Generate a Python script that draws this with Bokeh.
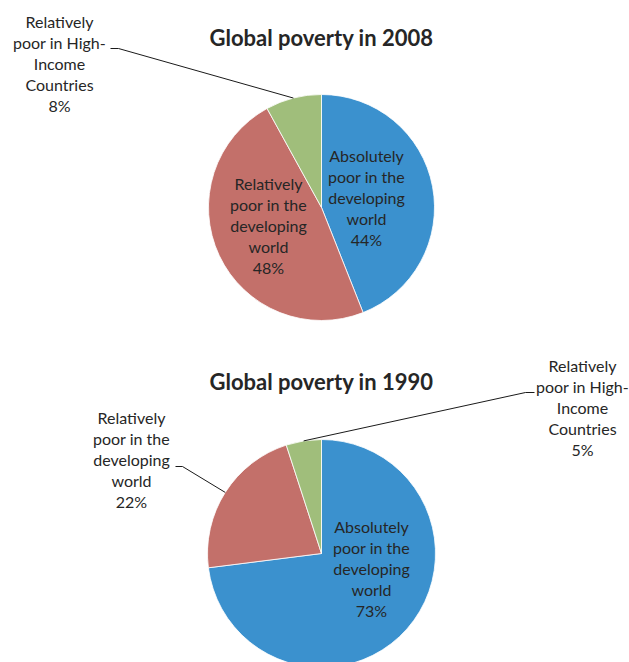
import numpy as np
from bokeh.plotting import figure
from bokeh.models import Range1d, ColumnDataSource
from bokeh.core.properties import value
from bokeh.embed import file_html
from bokeh.resources import INLINE

# ---- data ----
categories = [
    "Absolutely\npoor in the\ndeveloping\nworld",
    "Relatively\npoor in the\ndeveloping\nworld",
    "Relatively\npoor in High-\nIncome\nCountries",
]
share_2008 = [44, 48, 8]
share_1990 = [73, 22, 5]
titles = ["Global poverty in 2008", "Global poverty in 1990"]
colors = ["#3B91CE", "#C3706A", "#A0BE7B"]

# ---- layout (pixel coordinates, y measured from top) ----
W, H = 629, 662
FONT = "Lato"
TEXT_COLOR = "#262626"
LINE_GAP = 21.2

charts = [
    dict(values=share_2008, title=titles[0], cx=321, cy=207, r=113, title_y=37,
         labels=[(366, 197, None), (268, 225, None),
                 (59, 63, [(110, 48), (118, 48)])]),
    dict(values=share_1990, title=titles[1], cx=321, cy=553, r=114, title_y=381,
         labels=[(371, 568, None), (131, 459, [(175, 466), (182, 466)]),
                 (582, 407, [(534, 392), (525, 392)])]),
]

p = figure(width=W, height=H, x_range=Range1d(0, W), y_range=Range1d(0, H),
           output_backend="svg", toolbar_location=None, min_border=0,
           x_axis_type=None, y_axis_type=None)
p.grid.visible = False
p.outline_line_color = None
p.background_fill_color = "white"
p.border_fill_color = "white"


def Y(py):
    return H - py


for ch in charts:
    vals = np.array(ch["values"], dtype=float)
    frac = vals / vals.sum()
    cum_after = np.cumsum(frac)
    cum_before = cum_after - frac
    start = np.pi / 2 - 2 * np.pi * cum_after
    end = np.pi / 2 - 2 * np.pi * cum_before
    src = ColumnDataSource(dict(
        x=[ch["cx"]] * len(vals), y=[Y(ch["cy"])] * len(vals),
        start=start, end=end, color=colors))
    p.wedge(x="x", y="y", radius=ch["r"], start_angle="start", end_angle="end",
            direction="anticlock", fill_color="color", line_color="white",
            line_width=0.8, source=src)

    # title
    p.text(x=[ch["cx"]], y=[Y(ch["title_y"])], text=[ch["title"]],
           text_font=value(FONT), text_font_style="bold", text_font_size="22px",
           text_color=TEXT_COLOR, text_align="center", text_baseline="middle")

    # labels
    xs, ys, ts = [], [], []
    for i, (lx, ly, leader) in enumerate(ch["labels"]):
        lines = categories[i].split("\n") + [f"{ch['values'][i]}%"]
        n = len(lines)
        for k, t in enumerate(lines):
            xs.append(lx)
            ys.append(Y(ly + (k - (n - 1) / 2) * LINE_GAP))
            ts.append(t)
        if leader is not None:
            mid = cum_before[i] + frac[i] / 2
            ang = 2 * np.pi * mid  # clockwise from top
            px = ch["cx"] + ch["r"] * np.sin(ang)
            py = ch["cy"] - ch["r"] * np.cos(ang)
            pts = leader + [(px, py)]
            p.line(x=[q[0] for q in pts], y=[Y(q[1]) for q in pts],
                   line_color="#1a1a1a", line_width=1)
    p.text(x=xs, y=ys, text=ts, text_font=value(FONT), text_font_size="16px",
           text_color=TEXT_COLOR, text_align="center", text_baseline="middle")

open("out.html", "w").write(file_html(p, INLINE))
